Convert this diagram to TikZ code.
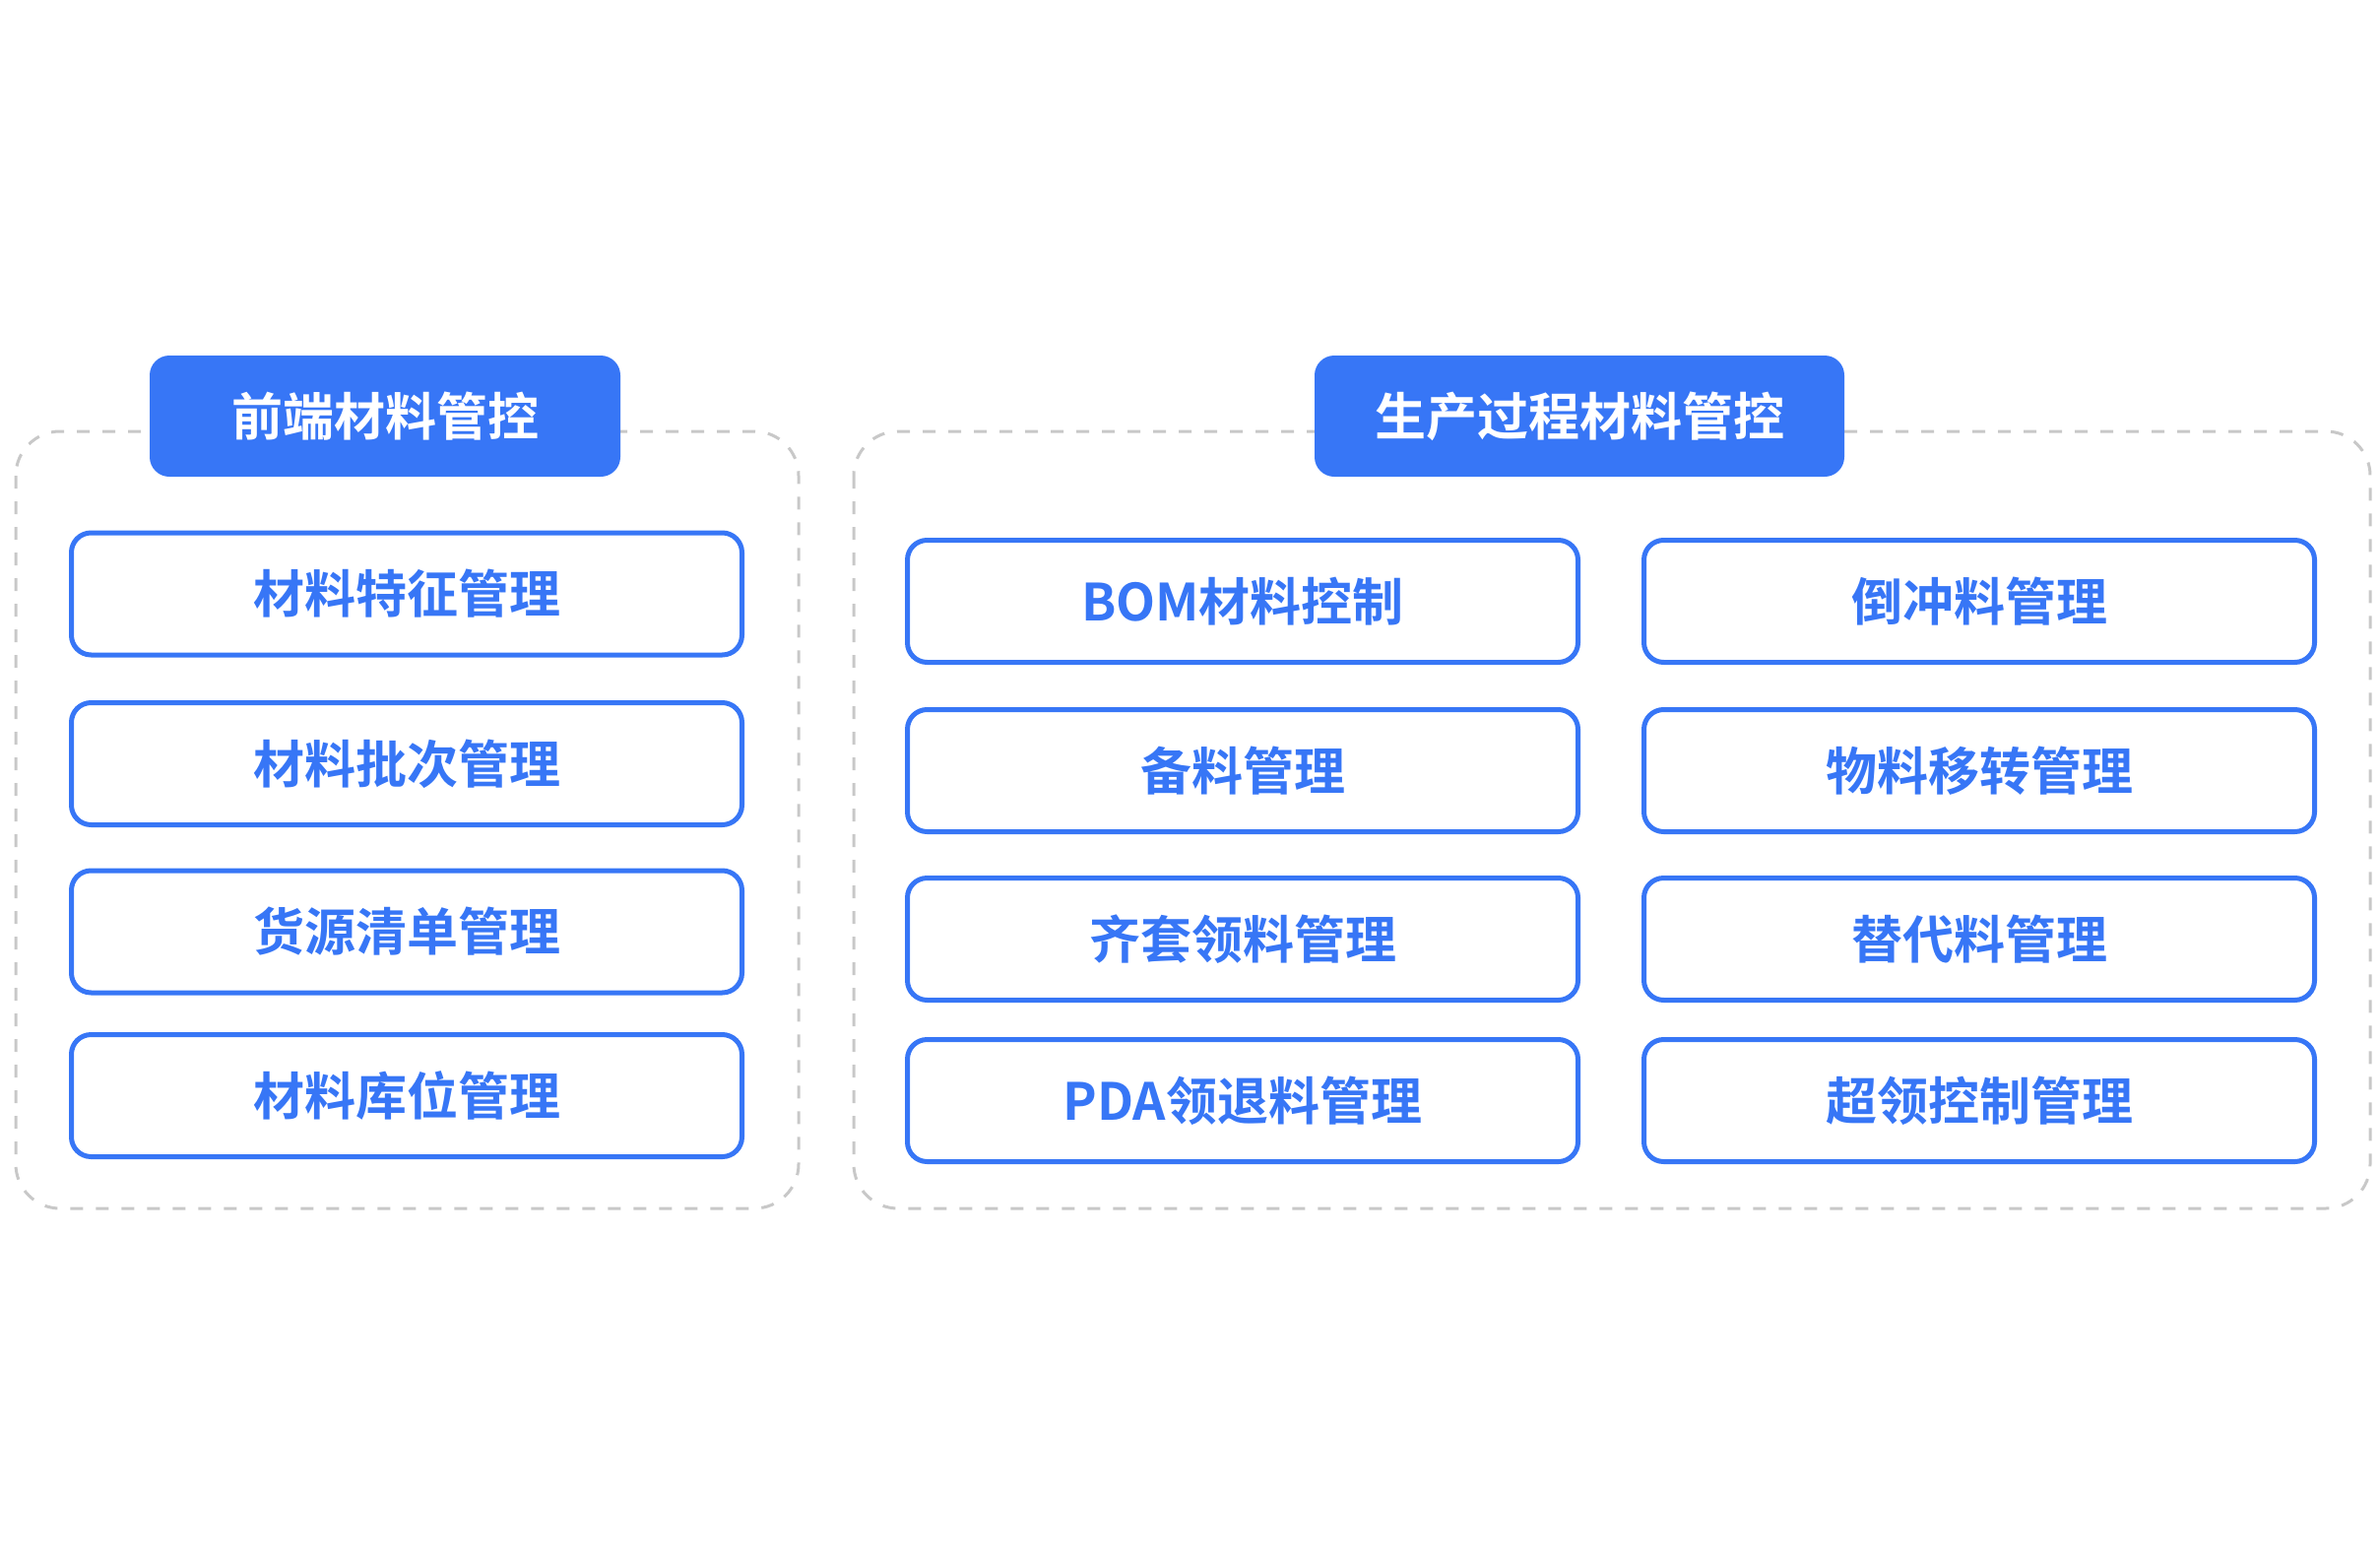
\documentclass[tikz,border=0pt]{standalone}
\usepackage{fontspec}
\setmainfont{Noto Sans CJK SC}[BoldFont={Noto Sans CJK SC Bold}]
\usepackage{tikz}
\usetikzlibrary {positioning}
\definecolor{mblue}{HTML}{3776F6}
\definecolor{mgray}{HTML}{C8C8C8}

\begin{document}
\begin{tikzpicture}[
      x=1pt, y=-1pt,
      frame/.style={draw=mgray, line width=3pt, dash pattern=on 13pt off 13pt, rounded corners=45pt},
      title/.style={fill=mblue, text=white, rounded corners=20pt, minimum width=#1, minimum height=123pt,
        font=\fontsize{52pt}{60pt}\selectfont\bfseries},
      item/.style={draw=mblue, line width=5pt, text=mblue, rounded corners=20pt, minimum width=681pt,
        minimum height=124pt, font=\fontsize{52pt}{60pt}\selectfont\bfseries}
      ]
      \useasboundingbox (0,0) rectangle (2417,1584);

      \draw[frame] (16,438) rectangle (811,1227);
      \draw[frame] (867,438) rectangle (2407,1227);

      \node[title=478pt] (t_l) at (391,422.5)  {前端材料管控};
      \node[title=538pt] (t_r) at (1604,422.5) {生产过程材料管控};

      \node[item] (l_1) at (413,603)    {材料特征管理};
      \node[item] (l_2) at (413,775.5)  {材料批次管理};
      \node[item] (l_3) at (413,946)    {货源清单管理};
      \node[item] (l_4) at (413,1112.5) {材料库位管理};

      \node[item] (r_1) at (1262,610.5)  {BOM材料控制};
      \node[item] (r_2) at (1262,782.5)  {备料管理};
      \node[item] (r_3) at (1262,953.5)  {齐套领料管理};
      \node[item] (r_4) at (1262,1117.5) {PDA领退料管理};

      \node[item] (s_1) at (2010,610.5)  {倒冲料管理};
      \node[item] (s_2) at (2010,782.5)  {物料移转管理};
      \node[item] (s_3) at (2010,953.5)  {替代料管理};
      \node[item] (s_4) at (2010,1117.5) {超领控制管理};
    \end{tikzpicture}
\end{document}
